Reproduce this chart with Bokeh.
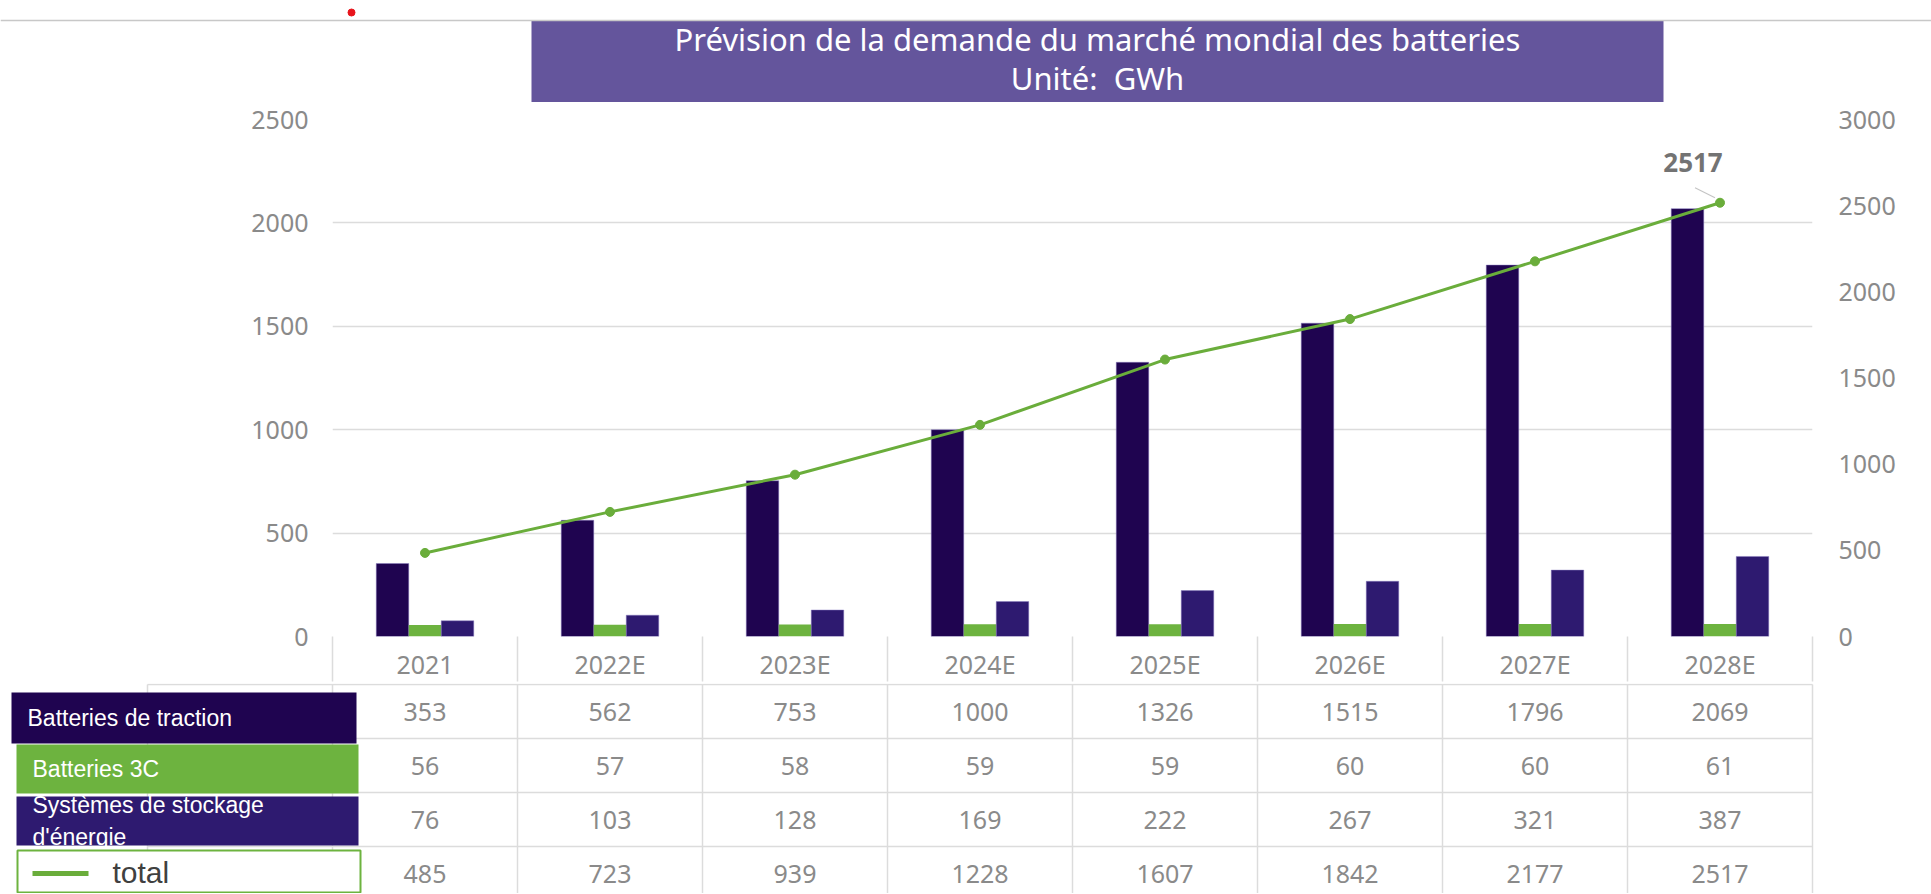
from bokeh.plotting import figure
from bokeh.models import Range1d, LinearAxis, FixedTicker, ColumnDataSource, Label, Span
from bokeh.layouts import column
from bokeh.embed import file_html
from bokeh.resources import INLINE
from bokeh.core.properties import value
from bokeh.transform import dodge

# ---------------- data ----------------
categories = ["2021", "2022E", "2023E", "2024E", "2025E", "2026E", "2027E", "2028E"]
traction = [353, 562, 753, 1000, 1326, 1515, 1796, 2069]
batteries_3c = [56, 57, 58, 59, 59, 60, 60, 61]
storage = [76, 103, 128, 169, 222, 267, 321, 387]
total = [485, 723, 939, 1228, 1607, 1842, 2177, 2517]
row_labels = ["Batteries de traction", "Batteries 3C", "Systèmes de stockage\nd'énergie", "total"]
left_ticks = [0, 500, 1000, 1500, 2000, 2500]
right_ticks = [0, 500, 1000, 1500, 2000, 2500, 3000]
title_lines = ["Prévision de la demande du marché mondial des batteries", "Unité:\u00a0\u00a0GWh"]

# ---------------- style / layout ----------------
W = 1931
C_TRACTION = "#1f0450"
C_3C = "#6db33f"
C_STORAGE = "#2e1a70"
C_LINE = "#6aad3b"
C_TITLE = "#64559c"
C_GRID = "#dcdcdc"
C_TEXT = "#8a8a8a"
NUM_FONT = "Noto Sans"
LBL_FONT = "Liberation Sans"

TITLE_H = 102
FRAME_T = 17
FRAME_H = 519
HEAD_H = 45
CHART_H = FRAME_T + FRAME_H + HEAD_H
TABLE_H = 210
TABLE_TOP = TITLE_H + CHART_H
FRAME_L = 332
FRAME_R = 119
n = len(categories)
CAT_PX = (W - FRAME_L - FRAME_R) / n
ROW_PX = 54
xc = [i + 0.5 for i in range(n)]

common = dict(toolbar_location=None, output_backend="svg", frame_align=False)

# ---------------- title strip ----------------
pt = figure(width=W, height=TITLE_H, x_range=Range1d(0, W), y_range=Range1d(TITLE_H, 0),
            x_axis_location=None, y_axis_location=None, min_border=0, **common)
pt.grid.visible = False
pt.outline_line_color = None
pt.add_layout(Span(location=20, dimension="width", line_color="#c8c8c8", line_width=1.5))
pt.quad(left=[531], right=[1663], top=[20], bottom=[TITLE_H], fill_color=C_TITLE, line_color=None)
pt.text(x=[1097, 1097], y=[38.5, 77], text=title_lines, text_align="center",
        text_baseline="middle", text_color="white",
        text_font=value(NUM_FONT), text_font_size="31px")
pt.scatter(x=[351], y=[12], size=7, fill_color="#e8141c", line_color="#e8141c")

# ---------------- chart ----------------
pa = figure(width=W, height=CHART_H, x_range=Range1d(0, n), y_range=Range1d(0, left_ticks[-1]),
            min_border_left=FRAME_L, min_border_right=FRAME_R,
            min_border_top=FRAME_T, min_border_bottom=HEAD_H, **common)
pa.extra_y_ranges = {"total": Range1d(0, right_ticks[-1])}
pa.outline_line_color = None
pa.xgrid.visible = False
pa.ygrid.grid_line_color = C_GRID
pa.ygrid.grid_line_width = 1.5

ya = pa.yaxis[0]
ya.ticker = FixedTicker(ticks=left_ticks)
ya.axis_line_color = None
ya.major_tick_in = 0
ya.major_tick_out = 0
ya.minor_tick_line_color = None
ya.major_label_standoff = 24
ya.major_label_text_font = NUM_FONT
ya.major_label_text_font_size = "25px"
ya.major_label_text_color = C_TEXT

yr = LinearAxis(y_range_name="total", ticker=FixedTicker(ticks=right_ticks))
yr.axis_line_color = None
yr.major_tick_in = 0
yr.major_tick_out = 0
yr.minor_tick_line_color = None
yr.major_label_standoff = 26
yr.major_label_text_font = NUM_FONT
yr.major_label_text_font_size = "25px"
yr.major_label_text_color = C_TEXT
pa.add_layout(yr, "right")

xa = pa.xaxis[0]
xa.ticker = FixedTicker(ticks=xc, minor_ticks=list(range(n + 1)))
xa.major_label_overrides = {x: c for x, c in zip(xc, categories)}
xa.major_tick_in = 0
xa.major_tick_out = 0
xa.minor_tick_in = 0
xa.minor_tick_out = HEAD_H
xa.minor_tick_line_color = C_GRID
xa.minor_tick_line_width = 1.5
xa.axis_line_color = None
xa.major_label_standoff = 10 - HEAD_H
xa.major_label_text_font = NUM_FONT
xa.major_label_text_font_size = "25px"
xa.major_label_text_color = C_TEXT

src = ColumnDataSource(dict(x=xc, cat=categories, traction=traction, c3=batteries_3c,
                            storage=storage, total=total))
BW = 32.5 / CAT_PX
pa.vbar(x=dodge("x", -BW, range=pa.x_range), top="traction", width=BW, source=src,
        fill_color=C_TRACTION, line_color="#8a7cc0", line_width=0.8, line_alpha=0.6)
pa.vbar(x="x", top="c3", width=BW, source=src, fill_color=C_3C, line_color=None)
pa.vbar(x=dodge("x", BW, range=pa.x_range), top="storage", width=BW, source=src,
        fill_color=C_STORAGE, line_color="#8a7cc0", line_width=0.8, line_alpha=0.6)
pa.line("x", "total", source=src, y_range_name="total", line_color=C_LINE, line_width=3)
pa.scatter("x", "total", source=src, y_range_name="total", size=9,
           fill_color=C_LINE, line_color=C_LINE)

py_per_unit = right_ticks[-1] / FRAME_H
pa.segment(x0=[xc[-1] - 25 / CAT_PX], y0=[total[-1] + 15 * py_per_unit],
           x1=[xc[-1] - 5 / CAT_PX], y1=[total[-1] + 5 * py_per_unit],
           y_range_name="total", line_color="#c4c4c4", line_width=1.2)
pa.add_layout(Label(x=xc[-1], y=total[-1], y_range_name="total", text=str(total[-1]),
                    x_offset=-27, y_offset=40, text_align="center", text_baseline="middle",
                    text_font=NUM_FONT, text_font_style="bold", text_font_size="26px",
                    text_color="#737373"))

# ---------------- data table ----------------
pb = figure(width=W, height=TABLE_H,
            x_range=Range1d(-FRAME_L / CAT_PX, (W - FRAME_L) / CAT_PX),
            y_range=Range1d((TABLE_H - 1) / ROW_PX, -1 / ROW_PX),
            x_axis_location=None, y_axis_location=None, min_border=0, **common)
pb.grid.visible = False
pb.outline_line_color = None

rows = [traction, batteries_3c, storage, total]
nr = len(rows)
pb.segment(x0=[-1] * (nr + 1), x1=[n] * (nr + 1), y0=list(range(nr + 1)), y1=list(range(nr + 1)),
           line_color=C_GRID, line_width=1.5)
vx = list(range(-1, n + 1))
pb.segment(x0=vx, x1=vx, y0=[0] * len(vx), y1=[nr] * len(vx), line_color=C_GRID, line_width=1.5)

tx, ty, tt = [], [], []
for r, vals in enumerate(rows):
    for i, v in enumerate(vals):
        tx.append(xc[i])
        ty.append(r + 0.5)
        tt.append(str(v))
pb.text(tx, ty, text=tt, text_align="center", text_baseline="middle", text_color=C_TEXT,
        text_font=value(NUM_FONT), text_font_size="25px")


def ux(page_x):
    return (page_x - FRAME_L) / CAT_PX


def vy(page_y):
    return (page_y - TABLE_TOP - 1) / ROW_PX


cells = [(11, 356, 692, 743, C_TRACTION, 27),
         (16, 358, 744, 793, C_3C, 32),
         (16, 358, 796, 845, C_STORAGE, 32)]
for (l, rr, t, b, col, tx0), lab in zip(cells, row_labels[:3]):
    pb.quad(left=[ux(l)], right=[ux(rr)], top=[vy(t)], bottom=[vy(b)], fill_color=col, line_color=None)
    pb.text(x=[ux(tx0)], y=[(vy(t) + vy(b)) / 2], text=[lab], text_align="left",
            text_baseline="middle", text_color="white", text_font=value(LBL_FONT),
            text_font_size="23px", text_line_height=1.2)

pb.quad(left=[ux(17)], right=[ux(360)], top=[vy(850)], bottom=[vy(892)], fill_color="white",
        line_color=C_3C, line_width=2)
pb.segment(x0=[ux(32)], x1=[ux(88)], y0=[vy(873)], y1=[vy(873)], line_color=C_LINE, line_width=5)
pb.text(x=[ux(112)], y=[vy(872)], text=[row_labels[3]], text_align="left", text_baseline="middle",
        text_color="#404040", text_font=value(LBL_FONT), text_font_size="30px")

layout = column(pt, pa, pb)
open("out.html", "w").write(file_html(layout, INLINE))
